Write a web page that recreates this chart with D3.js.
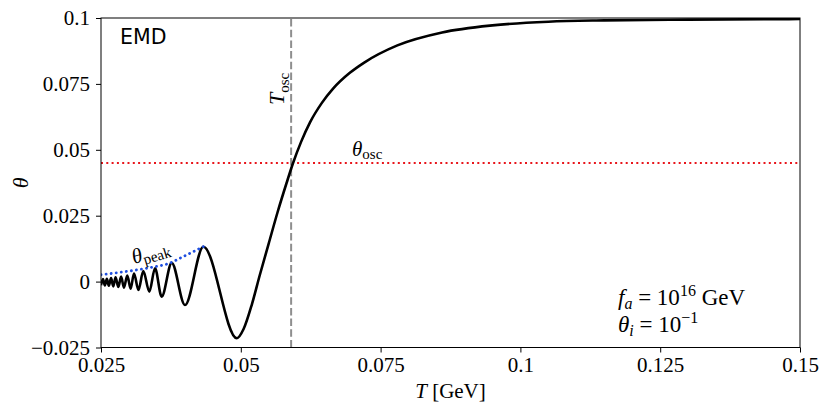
<!DOCTYPE html>
<html>
<head>
<meta charset="utf-8">
<title>theta vs T (EMD)</title>
<script src="https://cdn.jsdelivr.net/npm/d3@7"></script>
<style>
  body { margin: 0; background: #fff; }
  .math { font-family: "Liberation Serif", "Times New Roman", serif; fill: #000; }
</style>
</head>
<body>
<svg id="svg"></svg>
<script>
// field evolution theta(T): extrema of the oscillation, then the rise to theta_i
var tempT = [0.0250, 0.02535, 0.0257, 0.02605, 0.0264, 0.0268, 0.0272, 0.0276, 0.0281, 0.0286,
             0.0291, 0.0297, 0.0303, 0.0309, 0.0317, 0.03256, 0.03364, 0.03466, 0.03585, 0.03764,
             0.04002, 0.0433,
             0.0493, 0.0505, 0.0520, 0.0534, 0.0550, 0.0566, 0.0582, 0.0593, 0.0608, 0.0624,
             0.0645, 0.0665, 0.0695, 0.0720, 0.0780, 0.0860, 0.0950, 0.1050, 0.1150, 0.1300, 0.1500];
var theta = [-0.0014, 0.0010, -0.0015, 0.0011, -0.0016, 0.0013, -0.0018, 0.0016, -0.0020, 0.0019,
             -0.0023, 0.0023, -0.0027, 0.0031, -0.0032, 0.0040, -0.0038, 0.0050, -0.0057, 0.0071,
             -0.0089, 0.0132,
             -0.0215, -0.0180, -0.0085, 0.0025, 0.0145, 0.0265, 0.0375, 0.0447, 0.0531, 0.0605,
             0.0678, 0.0732, 0.0792, 0.0830, 0.0896, 0.0945, 0.0972, 0.0986, 0.0991, 0.0994, 0.0996];

// theta_peak envelope
var peakT     = [0.025, 0.028, 0.031, 0.034, 0.037, 0.040, 0.0435];
var peakTheta = [0.0026, 0.0034, 0.0043, 0.0054, 0.0068, 0.0098, 0.0135];

var tOsc = 0.059;
var thetaOsc = 0.045;

var xTicks = [0.025, 0.05, 0.075, 0.1, 0.125, 0.15];
var xTickLabels = ["0.025", "0.05", "0.075", "0.1", "0.125", "0.15"];
var yTicks = [-0.025, 0, 0.025, 0.05, 0.075, 0.1];
var yTickLabels = ["\u22120.025", "0", "0.025", "0.05", "0.075", "0.1"];

var width = 831, height = 413,
    _margins = {top: 18, left: 101, right: 31, bottom: 65.5};

var svg = d3.select("#svg")
    .attr("width", width)
    .attr("height", height);

var scaleX = d3.scaleLinear().domain([0.025, 0.15])
    .range([_margins.left, width - _margins.right]);
var scaleY = d3.scaleLinear().domain([-0.025, 0.1])
    .range([height - _margins.bottom, _margins.top]);

svg.append("clipPath").attr("id", "plotclip")
  .append("rect")
    .attr("x", _margins.left).attr("y", _margins.top)
    .attr("width", width - _margins.left - _margins.right)
    .attr("height", height - _margins.top - _margins.bottom);

// axes
var axisX = d3.axisBottom(scaleX).tickValues(xTicks)
    .tickFormat(function(d, i) { return xTickLabels[i]; })
    .tickSize(5).tickPadding(5);
var gx = svg.append("g")
    .attr("transform", "translate(0," + (height - _margins.bottom) + ")")
    .call(axisX);

var axisY = d3.axisLeft(scaleY).tickValues(yTicks)
    .tickFormat(function(d, i) { return yTickLabels[i]; })
    .tickSize(5).tickPadding(6);
var gy = svg.append("g")
    .attr("transform", "translate(" + _margins.left + ",0)")
    .call(axisY);

[gx, gy].forEach(function(g) {
    g.select(".domain").remove();
    g.selectAll(".tick line").attr("stroke", "#000");
    g.selectAll(".tick text")
        .attr("fill", "#000")
        .style("font-family", "'Liberation Serif', 'Times New Roman', serif")
        .style("font-size", "21px");
});

var plotG = svg.append("g").attr("clip-path", "url(#plotclip)");

// theta_osc horizontal line
plotG.append("line")
    .attr("x1", scaleX(0.025)).attr("x2", scaleX(0.15))
    .attr("y1", scaleY(thetaOsc)).attr("y2", scaleY(thetaOsc))
    .attr("stroke", "#e8151b").attr("stroke-width", 2)
    .attr("stroke-dasharray", "2,3.3");

// T_osc vertical line
plotG.append("line")
    .attr("x1", scaleX(tOsc)).attr("x2", scaleX(tOsc))
    .attr("y1", scaleY(-0.025)).attr("y2", scaleY(0.1))
    .attr("stroke", "#8e8e8e").attr("stroke-width", 2)
    .attr("stroke-dasharray", "7.5,3.2");

// main curve
var line = d3.line()
    .x(function(d) { return scaleX(d[0]); })
    .y(function(d) { return scaleY(d[1]); })
    .curve(d3.curveMonotoneX);

plotG.append("path")
    .datum(d3.zip(tempT, theta))
    .attr("d", line)
    .attr("fill", "none")
    .attr("stroke", "#000")
    .attr("stroke-width", 2.6)
    .attr("stroke-linejoin", "round");

// theta_peak envelope
plotG.append("path")
    .datum(d3.zip(peakT, peakTheta))
    .attr("d", line)
    .attr("fill", "none")
    .attr("stroke", "#1f4fe0")
    .attr("stroke-width", 2.8)
    .attr("stroke-linecap", "round")
    .attr("stroke-dasharray", "0.1,5");

// frame
svg.append("rect")
    .attr("x", _margins.left).attr("y", _margins.top)
    .attr("width", width - _margins.left - _margins.right)
    .attr("height", height - _margins.top - _margins.bottom)
    .attr("fill", "none").attr("stroke", "#000").attr("stroke-width", 1);

// labels
svg.append("text")
    .attr("x", 120).attr("y", 44)
    .style("font-family", "'DejaVu Sans', sans-serif")
    .style("font-size", "20.5px")
    .text("EMD");

var xl = svg.append("text").attr("class", "math")
    .attr("x", (_margins.left + width - _margins.right) / 2).attr("y", 398)
    .attr("text-anchor", "middle").style("font-size", "21px");
xl.append("tspan").style("font-style", "italic").text("T");
xl.append("tspan").text(" [GeV]");

svg.append("text").attr("class", "math")
    .attr("transform", "translate(28," + scaleY(0.0375) + ") rotate(-90)")
    .attr("text-anchor", "middle")
    .style("font-size", "22px").style("font-style", "italic")
    .text("\u03b8");

// T_osc label
var tl = svg.append("text").attr("class", "math")
    .attr("transform", "translate(284,105) rotate(-90)")
    .style("font-size", "22px");
tl.append("tspan").style("font-style", "italic").text("T");
tl.append("tspan").attr("dy", 5).style("font-size", "15px").text("osc");

// theta_osc label
var ol = svg.append("text").attr("class", "math")
    .attr("x", 352).attr("y", 156)
    .style("font-size", "21px");
ol.append("tspan").style("font-style", "italic").text("\u03b8");
ol.append("tspan").attr("dy", 3).style("font-size", "15px").text("osc");

// theta_peak label
var pl = svg.append("text").attr("class", "math")
    .attr("transform", "translate(134,264) rotate(-17)")
    .style("font-size", "21px");
pl.append("tspan").style("font-style", "italic").text("\u03b8");
pl.append("tspan").attr("dy", 4).style("font-size", "15px").text("peak");

// parameters
var p1 = svg.append("text").attr("class", "math")
    .attr("x", 618).attr("y", 305).style("font-size", "23px");
p1.append("tspan").style("font-style", "italic").text("f");
p1.append("tspan").attr("dy", 4).style("font-size", "16px").style("font-style", "italic").text("a");
p1.append("tspan").attr("dy", -4).text(" = 10");
p1.append("tspan").attr("dy", -9).style("font-size", "16px").text("16");
p1.append("tspan").attr("dy", 9).text(" GeV");

var p2 = svg.append("text").attr("class", "math")
    .attr("x", 618).attr("y", 332).style("font-size", "23px");
p2.append("tspan").style("font-style", "italic").text("\u03b8");
p2.append("tspan").attr("dy", 4).style("font-size", "16px").style("font-style", "italic").text("i");
p2.append("tspan").attr("dy", -4).text(" = 10");
p2.append("tspan").attr("dy", -9).style("font-size", "16px").text("\u22121");
</script>
</body>
</html>
